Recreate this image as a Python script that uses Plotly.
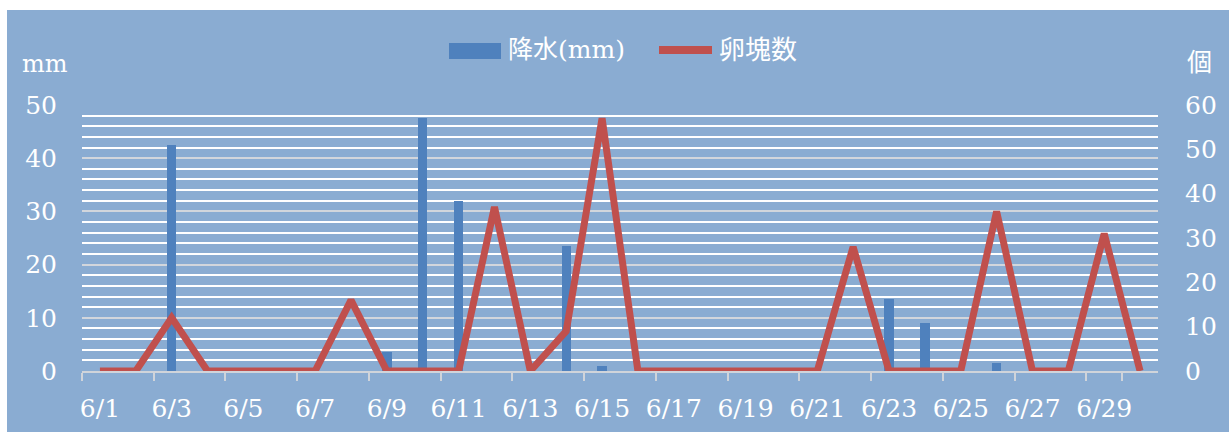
import plotly.graph_objects as go

# Daily data for June
dates = [f"6/{d}" for d in range(1, 31)]
rain_mm = [0, 0, 42.5, 0, 0, 0, 0, 0, 3.5, 47.5,
           32, 0, 0, 23.5, 1.0, 0, 0, 0, 0, 0,
           0, 0, 13.5, 9.0, 0, 1.5, 0, 0, 0, 0]
egg_masses = [0, 0, 12, 0, 0, 0, 0, 16, 0, 0,
              0, 37, 0, 9, 57, 0, 0, 0, 0, 0,
              0, 28, 0, 0, 0, 36, 0, 0, 31, 0]
x_labels = dates[::2]

W, H = 1229, 432
ML, MR, MT, MB = 82, 71, 105, 61
PW, PH = W - ML - MR, H - MT - MB

BG = "#8AACD2"
BAR = "#4F81BD"
LINE = "#C0504D"
GRID_MAJOR = "#D2D6DC"
AXIS = "#D0D4DA"
FONT = "DejaVu Serif, Noto Sans CJK JP, serif"
TICK_SIZE = 25


def fx(px):
    return (px - ML) / PW


def fy(py):
    return (H - MB - py) / PH


fig = go.Figure()
fig.add_trace(go.Bar(x=dates, y=rain_mm, name="降水(mm)", marker_color=BAR,
                     marker_line_width=0, width=0.26, yaxis="y", showlegend=False))
fig.add_trace(go.Scatter(x=dates, y=egg_masses, name="卵塊数", mode="lines",
                         line=dict(color=LINE, width=7), yaxis="y2", showlegend=False))

shapes = [
    # chart area background
    dict(type="rect", xref="paper", yref="paper", x0=fx(7), x1=fx(W + 5),
         y0=fy(H + 5), y1=fy(10), fillcolor=BG, line_width=0, layer="below"),
    # legend keys
    dict(type="rect", xref="paper", yref="paper", x0=fx(449), x1=fx(501),
         y0=fy(59), y1=fy(43), fillcolor=BAR, line_width=0),
    dict(type="line", xref="paper", yref="paper", x0=fx(659), x1=fx(712),
         y0=fy(50), y1=fy(50), line=dict(color=LINE, width=8)),
]

annotations = [
    dict(text="降水(mm)", xref="paper", yref="paper", x=fx(506), y=fy(50),
         xanchor="left", yanchor="middle", showarrow=False,
         font=dict(family=FONT, size=25, color="white")),
    dict(text="卵塊数", xref="paper", yref="paper", x=fx(717), y=fy(50),
         xanchor="left", yanchor="middle", showarrow=False,
         font=dict(family=FONT, size=26, color="white")),
    dict(text="mm", xref="paper", yref="paper", x=fx(45), y=fy(64),
         xanchor="center", yanchor="middle", showarrow=False,
         font=dict(family=FONT, size=24, color="white")),
    dict(text="個", xref="paper", yref="paper", x=fx(1199), y=fy(62),
         xanchor="center", yanchor="middle", showarrow=False,
         font=dict(family=FONT, size=25, color="white")),
]

fig.update_layout(
    width=W, height=H, autosize=False,
    margin=dict(l=ML, r=MR, t=MT, b=MB, pad=0),
    paper_bgcolor="white", plot_bgcolor="rgba(0,0,0,0)",
    font=dict(family=FONT, color="white", size=TICK_SIZE),
    shapes=shapes, annotations=annotations,
    bargap=0,
    xaxis=dict(type="category", categoryorder="array", categoryarray=dates,
               tickmode="array", tickvals=x_labels, ticktext=x_labels,
               tickson="boundaries", ticks="outside", ticklen=8, tickwidth=1.5,
               tickcolor=AXIS, showline=True, linecolor=AXIS, linewidth=1.5,
               showgrid=False, ticklabelstandoff=14, tickangle=0, automargin=False,
               tickfont=dict(family=FONT, size=TICK_SIZE, color="white")),
    yaxis=dict(range=[0, 50], dtick=10, tick0=0, showgrid=True,
               gridcolor=GRID_MAJOR, gridwidth=1.6, zeroline=False,
               minor=dict(dtick=2, showgrid=True, gridcolor="white", gridwidth=1.6),
               ticks="", ticklabelstandoff=24, automargin=False,
               tickfont=dict(family=FONT, size=TICK_SIZE, color="white")),
    yaxis2=dict(range=[0, 60], dtick=10, tick0=0, overlaying="y", side="right",
                showgrid=False, zeroline=False, ticks="", ticklabelstandoff=26,
                automargin=False,
                tickfont=dict(family=FONT, size=TICK_SIZE, color="white")),
)

fig.write_html("out.html")
